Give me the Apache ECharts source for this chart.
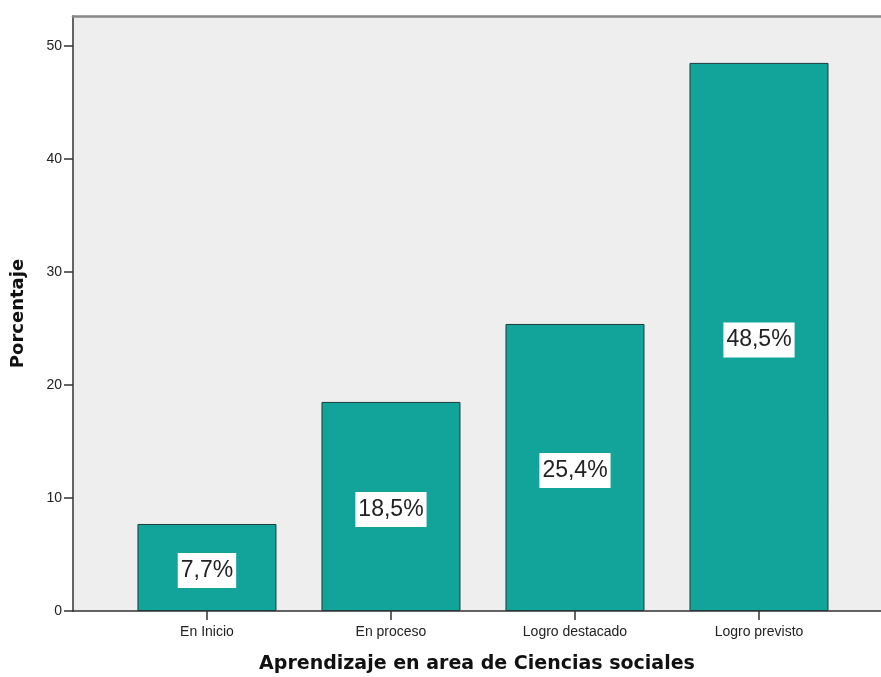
<!DOCTYPE html>
<html><head><meta charset="utf-8">
<script src="https://cdn.jsdelivr.net/npm/echarts@6/dist/echarts.min.js"></script>
<style>html,body{margin:0;padding:0;background:#fff}#c{width:881px;height:677px}</style>
</head><body><div id="c"></div>
<script>
const categories = ['En Inicio', 'En proceso', 'Logro destacado', 'Logro previsto'];
const values = [7.7, 18.5, 25.4, 48.5];
const yTicks = [0, 10, 20, 30, 40, 50];
const xTitle = 'Aprendizaje en area de Ciencias sociales';
const yTitle = 'Porcentaje';

const font = '"Liberation Sans", Arial, sans-serif';
const titleFont = '"DejaVu Sans", Verdana, sans-serif';
const chart = echarts.init(document.getElementById('c'));
chart.setOption({
  animation: false,
  textStyle: { fontFamily: font },
  grid: { left: 73, top: 16, right: 0, bottom: 66, show: true, backgroundColor: '#eeeeee', borderWidth: 0, outerBoundsMode: 'none', containLabel: false },
  xAxis: [{
    type: 'value', min: -0.728, max: 3.663,
    axisLine: { show: true, onZero: false, lineStyle: { color: '#333', width: 1.5 } },
    axisTick: { show: true, customValues: categories.map((c, i) => i), length: 9, lineStyle: { color: '#333', width: 1.5 } },
    axisLabel: { customValues: categories.map((c, i) => i), formatter: v => categories[Math.round(v)], fontSize: 14, color: '#222', margin: 14, fontFamily: font },
    splitLine: { show: false },
    name: xTitle, nameLocation: 'middle', nameGap: 44,
    nameTextStyle: { fontSize: 19, fontWeight: 'bold', color: '#111', fontFamily: titleFont }
  }, {
    type: 'value', position: 'top', min: 0, max: 1,
    axisLine: { show: true, onZero: false, lineStyle: { color: '#888', width: 2.5 } },
    axisTick: { show: false }, axisLabel: { show: false }, splitLine: { show: false }
  }],
  yAxis: {
    type: 'value', min: 0, max: 52.65, interval: 10,
    axisLine: { show: true, onZero: false, lineStyle: { color: '#333', width: 1.5 } },
    axisTick: { show: true, customValues: yTicks, length: 9, lineStyle: { color: '#333', width: 1.5 } },
    axisLabel: { customValues: yTicks, fontSize: 14, color: '#222', margin: 11, fontFamily: font },
    splitLine: { show: false },
    name: yTitle, nameLocation: 'middle', nameGap: 46, nameRotate: 90,
    nameTextStyle: { fontSize: 18, fontWeight: 'bold', color: '#111', fontFamily: titleFont }
  },
  series: [{
    type: 'bar', xAxisIndex: 0,
    barWidth: 139,
    data: values.map((v, i) => [i, v]),
    itemStyle: { color: '#12a39a', borderColor: '#1d3b3a', borderWidth: 1 },
    label: {
      show: true, position: 'inside', offset: [0, 3],
      formatter: p => p.value[1].toFixed(1).replace('.', ',') + '%',
      backgroundColor: '#ffffff', padding: [4, 3, 3, 3], lineHeight: 28,
      fontSize: 23, color: '#222', fontFamily: font
    }
  }]
});
</script></body></html>
